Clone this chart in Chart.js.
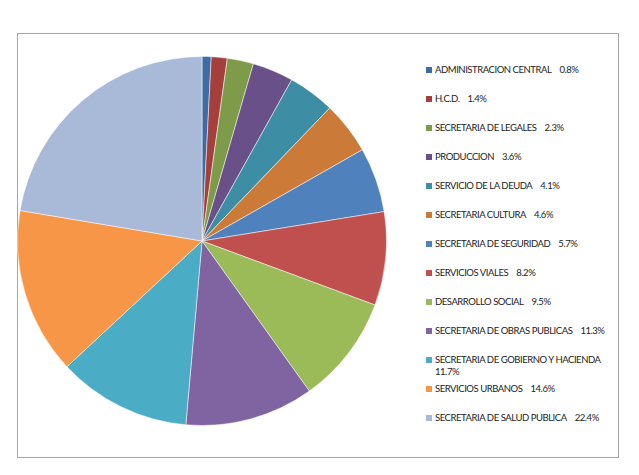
<!DOCTYPE html>
<html>
<head>
<meta charset="utf-8">
<script src="https://cdn.jsdelivr.net/npm/chart.js@4/dist/chart.umd.min.js"></script>
<style>
    body { margin: 0; background: #fff; width: 639px; height: 475px; overflow: hidden; position: relative; }
    #marco { position: absolute; left: 17px; top: 33px; width: 600px; height: 423px; border: 1.5px solid #a6a6a6; }
    #torta { position: absolute; left: 17px; top: 56px; }
    .voce { position: absolute; left: 426px; width: 192px; font-family: Lato, sans-serif; font-size: 9.5px; letter-spacing: -0.45px; line-height: 12px; color: #222; }
    .voce .quadro { position: absolute; left: 0; top: 3px; width: 6px; height: 6px; }
    .voce .testo { position: absolute; left: 9px; width: 180px; }
    .voce .nome { white-space: nowrap; margin-right: 8px; }
    .voce .pct { display: inline-block; }
</style>
</head>
<body>
<div id="marco"></div>
<canvas id="torta" width="370" height="370"></canvas>
<div id="legenda"></div>
<script>
// ── Dati ─────────────────────────────────────────────────────
const aree = [
    'ADMINISTRACION CENTRAL',
    'H.C.D.',
    'SECRETARIA DE LEGALES',
    'PRODUCCION',
    'SERVICIO DE LA DEUDA',
    'SECRETARIA CULTURA',
    'SECRETARIA DE SEGURIDAD',
    'SERVICIOS VIALES',
    'DESARROLLO SOCIAL',
    'SECRETARIA DE OBRAS PUBLICAS',
    'SECRETARIA DE GOBIERNO Y HACIENDA',
    'SERVICIOS URBANOS',
    'SECRETARIA DE SALUD PUBLICA'
];
const percentuali = [0.8, 1.4, 2.3, 3.6, 4.1, 4.6, 5.7, 8.2, 9.5, 11.3, 11.7, 14.6, 22.4];
const colori = [
    '#3C6CA3', '#A43F3C', '#7E9B49', '#6A5088', '#3D8DA4', '#CB7B37',
    '#4F81BD', '#C0504D', '#9BBB59', '#8064A2', '#4BACC6', '#F79646', '#A9B9D8'
];

// ── Torta ────────────────────────────────────────────────────
const ctx = document.getElementById('torta').getContext('2d');
const torta = new Chart(ctx, {
    type: 'pie',
    data: {
        labels: aree,
        datasets: [{
            data: percentuali,
            backgroundColor: colori,
            borderColor: 'rgba(255, 255, 255, 0.5)',
            borderWidth: 1
        }]
    },
    options: {
        responsive: false,
        animation: false,
        layout: { padding: 0 },
        plugins: {
            legend: { display: false },
            tooltip: { enabled: false }
        }
    }
});

// ── Legenda ──────────────────────────────────────────────────
const legenda = document.getElementById('legenda');
aree.forEach((nome, i) => {
    const voce = document.createElement('div');
    voce.className = 'voce';
    voce.style.top = (70 + i * 28.97 - 6) + 'px';
    voce.innerHTML = '<span class="quadro" style="background:' + colori[i] + '"></span>' +
        '<span class="testo"><span class="nome">' + nome + '</span><span class="pct">' +
        percentuali[i].toFixed(1) + '%</span></span>';
    legenda.appendChild(voce);
});
</script>
</body>
</html>
